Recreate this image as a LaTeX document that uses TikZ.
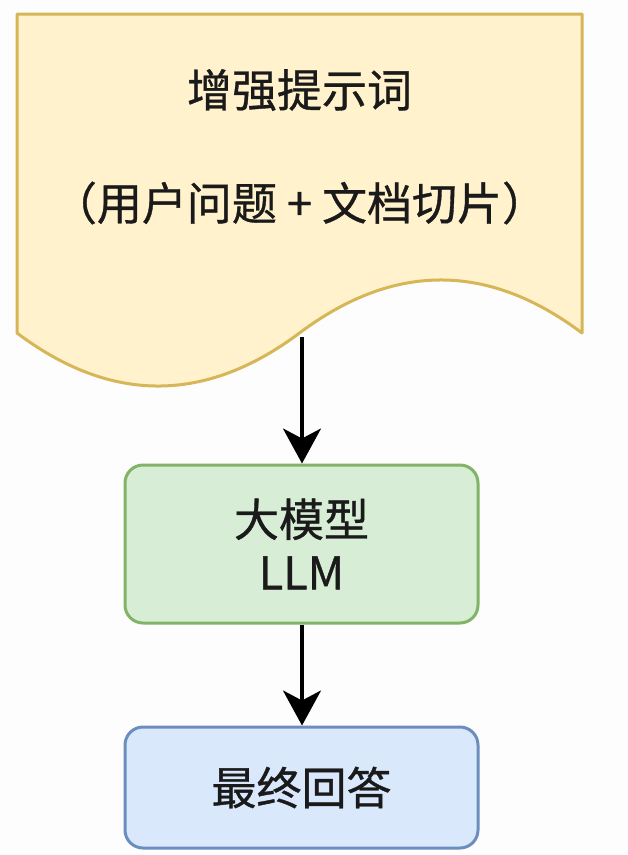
\documentclass[tikz,border=0pt]{standalone}
\usepackage{fontspec}
\setmainfont{Noto Sans CJK SC}[FakeBold=0.8]
\usetikzlibrary{arrows.meta}
\definecolor{bgc}{HTML}{FDFDFD}
\definecolor{docfill}{HTML}{FFF2CC}
\definecolor{docline}{HTML}{D6B656}
\definecolor{gfill}{HTML}{D7EDD5}
\definecolor{gline}{HTML}{82B366}
\definecolor{bfill}{HTML}{DAE8FC}
\definecolor{bline}{HTML}{6C8EBF}
\definecolor{txt}{HTML}{1A1A1A}
\tikzset{
  box/.style={draw, line width=3pt, rounded corners=18pt, minimum width=353pt, align=center, text=txt, font=\fontsize{45}{53}\selectfont, inner sep=0pt},
  conn/.style={line width=3.6pt, -{Stealth[length=35pt,width=38pt,inset=10pt]}},
  lbl/.style={text=txt, font=\fontsize{45}{53}\selectfont, inner sep=0pt}
}
\begin{document}
\begin{tikzpicture}[x=1pt,y=-1pt]
\fill[bgc] (0,0) rectangle (628,855);
\useasboundingbox (0,0) rectangle (628,855);
% document shape
\draw[fill=docfill, draw=docline, line width=3pt, line join=round]
  (17,14) -- (582,14) -- (582,333)
  .. controls (488,262.3) and (393.8,262.3) .. (299.5,333)
  .. controls (205.2,403.7) and (111,403.7) .. (17,333) -- cycle;
\node[lbl] (t1) at (299.5,90) {增强提示词};
\node[lbl] (t2) at (299.5,203) {（用户问题 + 文档切片）};
\coordinate (docb) at (302,337);
\node[box, fill=gfill, draw=gline, minimum height=158pt] (llm) at (301.5,544) {大模型\\LLM};
\node[box, fill=bfill, draw=bline, minimum height=121pt] (ans) at (301.5,787.5) {最终回答};
\draw[conn] (docb) -- (docb |- llm.north);
\draw[conn] (llm.south -| docb) -- (docb |- ans.north);
\end{tikzpicture}
\end{document}
